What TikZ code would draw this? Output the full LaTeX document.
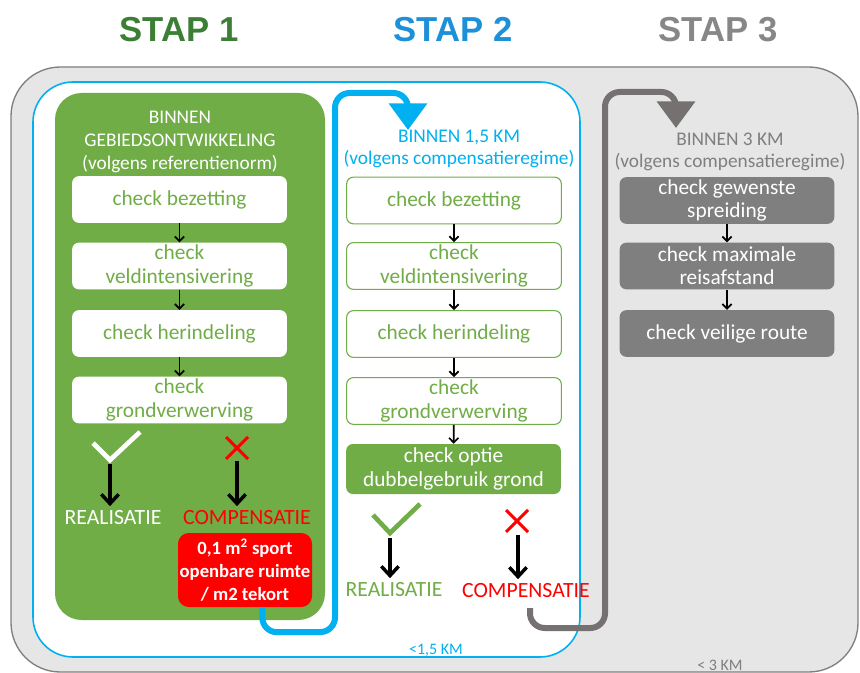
\documentclass[tikz,border=0pt]{standalone}
\usepackage{fontspec}
\setmainfont{Carlito}
\newfontfamily\stapfont{Liberation Sans}
\usetikzlibrary{arrows.meta}

\definecolor{stapgroen}{HTML}{3B7F35}
\definecolor{stapblauw}{HTML}{1E90D8}
\definecolor{stapgrijs}{HTML}{878787}
\definecolor{groen}{HTML}{70AD47}
\definecolor{blauw}{HTML}{00B0F0}
\definecolor{grijs}{HTML}{7F7F7F}
\definecolor{routegrijs}{HTML}{767171}
\definecolor{achtergrond}{HTML}{E6E6E6}
\definecolor{rood}{HTML}{FF0000}

\tikzset{
  stap/.style       = {font=\stapfont\bfseries\fontsize{26}{30}\selectfont},
  kop/.style        = {align=center, font=\fontsize{14.5}{17}\selectfont},
  checkbox/.style   = {shape=rectangle, rounded corners=5pt, align=center,
                       minimum width=161pt, minimum height=35pt, inner sep=1pt,
                       font=\fontsize{16}{17.5}\selectfont},
  witcheck/.style   = {checkbox, fill=white, text=groen},
  randcheck/.style  = {checkbox, draw=groen, line width=0.8pt, fill=white, text=groen},
  grijscheck/.style = {checkbox, fill=grijs, text=white},
  groencheck/.style = {checkbox, fill=groen, text=white, minimum height=37.5pt},
  stapje/.style     = {-{Straight Barb[length=3.5pt,width=7pt]}, line width=1.3pt},
  pijl/.style       = {-{Straight Barb[length=7pt,width=13pt]}, line width=2.6pt},
  uitkomst/.style   = {font=\fontsize{16.3}{19}\selectfont},
  route/.style      = {line width=4.5pt, rounded corners=11pt,
                       -{Triangle[length=20pt,width=28pt]}},
  afstand/.style    = {font=\fontsize{12}{14}\selectfont}
}

\begin{document}
\begin{tikzpicture}[x=0.75pt, y=-0.75pt]
\useasboundingbox (0,0) rectangle (860,673);

\draw[rounded corners=37pt, fill=achtergrond, draw=grijs, line width=1pt] (11,67) rectangle (858,672);
\draw[rounded corners=30pt, fill=white, draw=blauw, line width=1.2pt] (33,82) rectangle (580,657);
\fill[groen, rounded corners=20pt] (55,93) rectangle (325,620);

\node[stap, text=stapgroen] (stap1) at (179,30) {STAP 1};
\node[stap, text=stapblauw] (stap2) at (453,30) {STAP 2};
\node[stap, text=stapgrijs] (stap3) at (718,30) {STAP 3};

% stap 1
\node[kop, text=white] (kop1) at (180,142) {BINNEN\\GEBIEDSONTWIKKELING\\(volgens referentienorm)};
\node[witcheck] (b1) at (179.5,199.5) {check bezetting};
\node[witcheck] (v1) at (179.5,266) {check\\veldintensivering};
\node[witcheck] (h1) at (179.5,333.5) {check herindeling};
\node[witcheck] (g1) at (179.5,400) {check\\grondverwerving};
\draw[stapje] (b1) -- (v1);
\draw[stapje] (v1) -- (h1);
\draw[stapje] (h1) -- (g1);

\draw[white, line width=3.5pt] (93,443) -- (110,460) -- (140,432);
\draw[rood, line width=2.2pt] (226,437) -- (248,459) (226,459) -- (248,437);
\coordinate (ok1) at (110,464);
\coordinate (nok1) at (237,461);
\node[uitkomst, text=white] (real1) at (113,518) {REALISATIE};
\node[uitkomst, text=rood] (comp1) at (247,518) {COMPENSATIE};
\draw[pijl] (ok1) -- (ok1 |- real1.north);
\draw[pijl] (nok1) -- (nok1 |- comp1.north);

\node[fill=rood, text=white, rounded corners=8pt, align=center,
      minimum width=100.5pt, minimum height=55.5pt, inner sep=1pt,
      font=\bfseries\fontsize{14}{17}\selectfont] (norm) at (245,570)
      {0,1 m\textsuperscript{2} sport\\openbare ruimte\\/ m2 tekort};

% stap 2
\node[kop, text=blauw] (kop2) at (459,149) {BINNEN 1,5 KM\\(volgens compensatieregime)};
\node[randcheck] (b2) at (454,200.5) {check bezetting};
\node[randcheck] (v2) at (454,266) {check\\veldintensivering};
\node[randcheck] (h2) at (454,334) {check herindeling};
\node[randcheck] (g2) at (454,401) {check\\grondverwerving};
\node[groencheck] (d2) at (453.5,469) {check optie\\dubbelgebruik grond};
\draw[stapje] (b2) -- (v2);
\draw[stapje] (v2) -- (h2);
\draw[stapje] (h2) -- (g2);
\draw[stapje] (g2) -- (d2);

\draw[groen, line width=3.5pt] (373,515) -- (390,533) -- (420,504);
\draw[rood, line width=2.2pt] (506,510) -- (528,532) (506,532) -- (528,510);
\coordinate (ok2) at (390,538);
\coordinate (nok2) at (518,535);
\node[uitkomst, text=groen] (real2) at (394,590) {REALISATIE};
\node[uitkomst, text=rood] (comp2) at (526,591) {COMPENSATIE};
\draw[pijl] (ok2) -- (ok2 |- real2.north);
\draw[pijl] (nok2) -- (nok2 |- comp2.north);
\node[afstand, text=blauw] (km15) at (436,650) {<1,5 KM};

\coordinate (naar2) at (408,130);
\draw[route, blauw] ([xshift=13pt]norm.south) -- ++(0,25) -- (335,632) -- (335,93) -- (408,93) -- (naar2);

% stap 3
\node[kop, text=grijs] (kop3) at (730,152) {BINNEN 3 KM\\(volgens compensatieregime)};
\node[grijscheck] (s3) at (727,200.5) {check gewenste\\spreiding};
\node[grijscheck] (r3) at (727,266) {check maximale\\reisafstand};
\node[grijscheck] (v3) at (727,333.5) {check veilige route};
\draw[stapje] (s3) -- (r3);
\draw[stapje] (r3) -- (v3);
\node[afstand, text=grijs] (km3) at (720,665) {< 3 KM};

\coordinate (van3) at (530,608);
\coordinate (naar3) at (676,128);
\draw[route, routegrijs] (van3) -- (530,628) -- (605,628) -- (605,92) -- (676,92) -- (naar3);
\end{tikzpicture}
\end{document}
